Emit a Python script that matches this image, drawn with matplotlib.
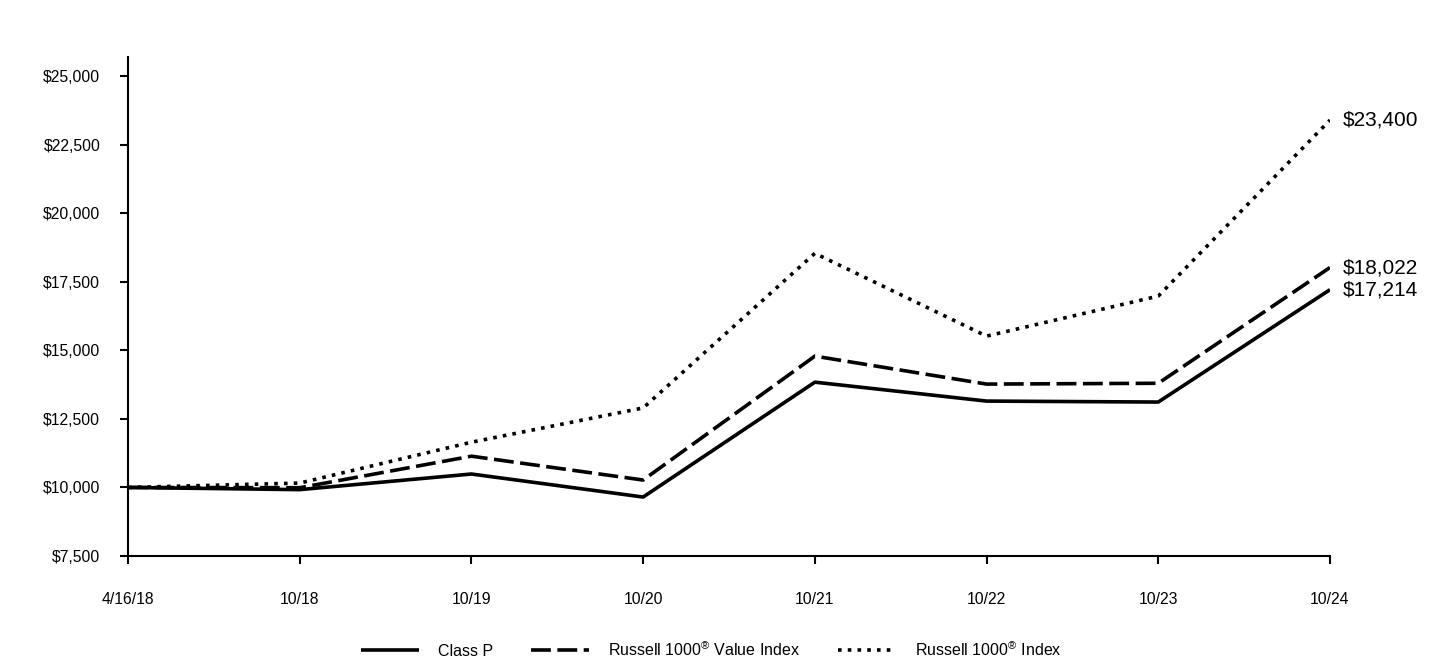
import matplotlib.pyplot as plt

plt.rcParams['font.family'] = ['Liberation Sans', 'DejaVu Sans']
plt.rcParams['mathtext.fontset'] = 'custom'
plt.rcParams['mathtext.rm'] = 'Liberation Sans'
plt.rcParams['mathtext.default'] = 'rm'

# Data
dates = ['4/16/18', '10/18', '10/19', '10/20', '10/21', '10/22', '10/23', '10/24']
class_p = [10000, 9920, 10490, 9650, 13840, 13150, 13115, 17214]
value_index = [10000, 9990, 11140, 10270, 14790, 13770, 13800, 18022]
russell_1000 = [10000, 10160, 11650, 12900, 18540, 15520, 16980, 23400]
yticks = [7500, 10000, 12500, 15000, 17500, 20000, 22500, 25000]

series = [
    ('Class P', class_p, '-'),
    ('Russell 1000$^{®}$ Value Index', value_index, (0, (5.5, 1.8))),
    ('Russell 1000$^{®}$ Index', russell_1000, (0, (1, 1.7))),
]

fig = plt.figure(figsize=(14.4, 6.6), dpi=100)
ax = fig.add_axes([0.0889, 0.1576, 0.8347, 0.756])

x = list(range(len(dates)))
for label, vals, ls in series:
    ax.plot(x, vals, color='black', lw=2.6, linestyle=ls, label=label,
            solid_capstyle='butt', dash_capstyle='butt')
    ax.annotate(f'${vals[-1]:,}', (x[-1], vals[-1]), xytext=(9, 0),
                textcoords='offset points', va='center', ha='left', fontsize=15)

ax.set_xlim(0, len(dates) - 1)
ax.set_ylim(7500, 25700)
ax.set_xticks(x)
ax.set_xticklabels(dates)
ax.set_yticks(yticks)
ax.set_yticklabels([f'${v:,}' for v in yticks])

for side in ['top', 'right']:
    ax.spines[side].set_visible(False)
for side in ['left', 'bottom']:
    ax.spines[side].set_linewidth(1.5)

ax.tick_params(axis='y', length=6, width=1.5, pad=14, labelsize=11.3)
ax.tick_params(axis='x', length=6, width=1.5, pad=20, labelsize=11.3)

fig.legend(loc='center', bbox_to_anchor=(0.494, 0.016), ncol=3, frameon=False,
           fontsize=11.5, handlelength=3.6, handletextpad=1.2, columnspacing=2.4)

fig.savefig('out.png', dpi=100)
